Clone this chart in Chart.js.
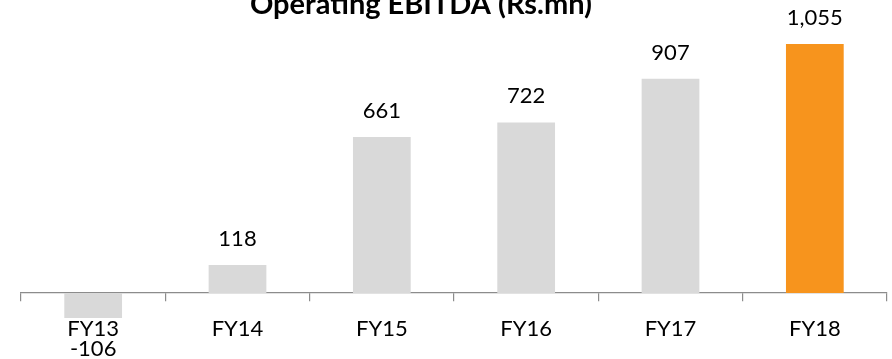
<!DOCTYPE html>
<html>
<head>
<meta charset="utf-8">
<script src="https://cdn.jsdelivr.net/npm/chart.js@4"></script>
<style>
  html, body { margin: 0; padding: 0; background: #fff; }
  #wrap { width: 892px; height: 359px; position: relative; }
</style>
</head>
<body>
<div id="wrap"><canvas id="ebitda"></canvas></div>
<script>
// Operating EBITDA (Rs.mn) by financial year
const years = ['FY13', 'FY14', 'FY15', 'FY16', 'FY17', 'FY18'];
const ebitda = [-106, 118, 661, 722, 907, 1055];
const barColors = ['#d9d9d9', '#d9d9d9', '#d9d9d9', '#d9d9d9', '#d9d9d9', '#f7941d'];
const chartTitle = 'Operating EBITDA (Rs.mn)';

const FONT = 'Lato, "Open Sans", sans-serif';

// value labels above positive bars, below negative ones
const valueLabels = {
  id: 'valueLabels',
  afterDatasetsDraw(chart) {
    const { ctx } = chart;
    const meta = chart.getDatasetMeta(0);
    ctx.save();
    ctx.font = `22px ${FONT}`;
    ctx.fillStyle = '#000';
    ctx.textAlign = 'center';
    ctx.textBaseline = 'alphabetic';
    meta.data.forEach((bar, i) => {
      const v = ebitda[i];
      const text = v.toLocaleString('en-US');
      const y = v >= 0 ? bar.y - 19 : bar.y + 38;
      ctx.fillText(text, bar.x, y);
    });
    ctx.restore();
  },
};

// title sits partly off the top edge
const topTitle = {
  id: 'topTitle',
  afterDraw(chart) {
    const { ctx, chartArea } = chart;
    ctx.save();
    ctx.font = `bold 29px ${FONT}`;
    ctx.fillStyle = '#000';
    ctx.textAlign = 'center';
    ctx.textBaseline = 'alphabetic';
    ctx.fillText(chartTitle, chartArea.left + 400, 14);
    ctx.restore();
  },
};

new Chart(document.getElementById('ebitda'), {
  type: 'bar',
  data: {
    labels: years,
    datasets: [{
      data: ebitda,
      backgroundColor: barColors,
      borderWidth: 0,
      barPercentage: 0.4,
      categoryPercentage: 1.0,
    }],
  },
  options: {
    responsive: true,
    maintainAspectRatio: false,
    animation: false,
    layout: { padding: { left: 21, right: 5, top: 0, bottom: 0 } },
    scales: {
      x: {
        position: { y: 0 },
        grid: {
          offset: true,
          drawOnChartArea: false,
          drawTicks: true,
          tickLength: 8,
          color: '#8c8c8c',
          lineWidth: 1.2,
        },
        border: { display: true, color: '#8c8c8c', width: 1.2 },
        ticks: {
          color: '#000',
          font: { family: FONT, size: 22 },
          padding: 15,
          maxRotation: 0,
        },
      },
      y: {
        display: false,
        min: -280,
        max: 1241,
      },
    },
    plugins: {
      legend: { display: false },
      tooltip: { enabled: false },
    },
  },
  plugins: [valueLabels, topTitle],
});
</script>
</body>
</html>
